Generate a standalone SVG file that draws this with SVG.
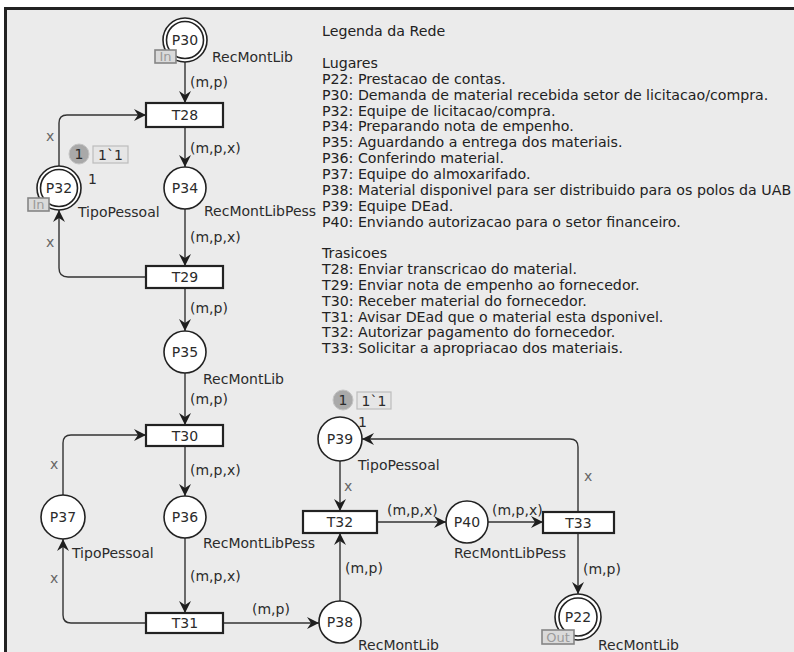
<svg xmlns="http://www.w3.org/2000/svg" width="794" height="652" viewBox="0 0 794 652">
<style>
text{font-family:"DejaVu Sans",Verdana,sans-serif;fill:#2b2b2b;font-size:14px}
.lab{font-size:14px}
.nm{font-size:14px;text-anchor:middle;dominant-baseline:central}
.ins{font-size:14px}
.gx{fill:#666}
.pl{fill:#fff;stroke:#222;stroke-width:1.6}
.tr{fill:#fff;stroke:#222;stroke-width:2.2}
.arc{fill:none;stroke:#333;stroke-width:1.4;marker-end:url(#ah)}
.port{fill:#dadada;stroke:#858585;stroke-width:1.6}
.pt{font-size:13px;fill:#9a9a9a;text-anchor:middle;dominant-baseline:central}
.tok{fill:#a9a9a9;stroke:#c4c4c4;stroke-width:1}
.tb{fill:#e6e6e6;stroke:#bdbdbd;stroke-width:1.2}
.leg{font-size:14.2px;fill:#222}
</style>
<defs>
<marker id="ah" markerUnits="userSpaceOnUse" markerWidth="14" markerHeight="14" refX="12" refY="6.5" orient="auto">
<path d="M0,0.5 L12,6.5 L0,12.5 L4,6.5 Z" fill="#1e1e1e"/>
</marker>
</defs>
<rect x="0" y="0" width="794" height="652" fill="#fff"/>
<rect x="5.5" y="8.5" width="820" height="680" fill="#ebebeb" stroke="#222" stroke-width="3"/>

<g id="connectors">
<path class="arc" d="M185 62 V103"/>
<path class="arc" d="M185 127 V167"/>
<path class="arc" d="M59 166 V123 Q59 115 67 115 H146"/>
<path class="arc" d="M185 209 V266"/>
<path class="arc" d="M146 277 H68 Q59 277 59 268 V210"/>
<path class="arc" d="M185 288 V331"/>
<path class="arc" d="M185 373 V425"/>
<path class="arc" d="M185 446 V496"/>
<path class="arc" d="M63 495 V443 Q63 435 71 435 H146"/>
<path class="arc" d="M185 538 V613"/>
<path class="arc" d="M146 623 H71 Q63 623 63 615 V539"/>
<path class="arc" d="M223 623 H319"/>
<path class="arc" d="M340 601 V533"/>
<path class="arc" d="M340 461 V511"/>
<path class="arc" d="M377 522 H446"/>
<path class="arc" d="M488 522 H543"/>
<path class="arc" d="M578 512 V447 Q578 439 570 439 H362"/>
<path class="arc" d="M578 533 V594"/>
<text class="ins" x="190" y="87">(m,p)</text>
<text class="ins" x="190" y="153">(m,p,x)</text>
<text class="ins gx" x="46" y="141">x</text>
<text class="ins" x="190" y="242">(m,p,x)</text>
<text class="ins gx" x="46" y="247">x</text>
<text class="ins" x="190" y="313">(m,p)</text>
<text class="ins" x="190" y="404">(m,p)</text>
<text class="ins gx" x="50" y="469">x</text>
<text class="ins" x="190" y="475">(m,p,x)</text>
<text class="ins" x="190" y="581">(m,p,x)</text>
<text class="ins gx" x="50" y="583">x</text>
<text class="ins" x="252" y="614">(m,p)</text>
<text class="ins" x="345" y="573">(m,p)</text>
<text class="ins gx" x="344" y="491">x</text>
<text class="ins" x="387" y="515">(m,p,x)</text>
<text class="ins" x="492" y="515">(m,p,x)</text>
<text class="ins gx" x="584" y="481">x</text>
<text class="ins" x="583" y="574">(m,p)</text>
</g>

<g id="P30">
<circle class="pl" cx="185" cy="40" r="22"/>
<circle class="pl" cx="185" cy="40" r="18.5"/>
<text class="nm" x="185" y="40">P30</text>
<rect class="port" x="155" y="50" width="21" height="13"/>
<text class="pt" x="165.5" y="56.5">In</text>
<text class="lab" x="212" y="62">RecMontLib</text>
</g>

<g id="T28">
<rect class="tr" x="146" y="103" width="77" height="24"/>
<text class="nm" x="185" y="115">T28</text>
</g>

<g id="P32">
<circle class="pl" cx="59" cy="188" r="22"/>
<circle class="pl" cx="59" cy="188" r="18.5"/>
<text class="nm" x="59" y="188">P32</text>
<rect class="port" x="28" y="198" width="21" height="13"/>
<text class="pt" x="38.5" y="204.5">In</text>
<text class="lab" x="78" y="217">TipoPessoal</text>
<text class="lab" x="88" y="184">1</text>
<circle class="tok" cx="79" cy="154" r="10"/>
<text class="nm" x="79" y="154">1</text>
<rect class="tb" x="93" y="146" width="35" height="17"/>
<text class="nm" x="110.5" y="154.5">1`1</text>
</g>

<g id="P34">
<circle class="pl" cx="185" cy="188" r="21"/>
<text class="nm" x="185" y="188">P34</text>
<text class="lab" x="204" y="216">RecMontLibPess</text>
</g>

<g id="T29">
<rect class="tr" x="146" y="266" width="77" height="22"/>
<text class="nm" x="185" y="277">T29</text>
</g>

<g id="P35">
<circle class="pl" cx="185" cy="352" r="21"/>
<text class="nm" x="185" y="352">P35</text>
<text class="lab" x="203" y="384">RecMontLib</text>
</g>

<g id="T30">
<rect class="tr" x="146" y="425" width="77" height="21"/>
<text class="nm" x="185" y="435.5">T30</text>
</g>

<g id="P37">
<circle class="pl" cx="63" cy="517" r="22"/>
<text class="nm" x="63" y="517">P37</text>
<text class="lab" x="72" y="558">TipoPessoal</text>
</g>

<g id="P36">
<circle class="pl" cx="185" cy="517" r="21"/>
<text class="nm" x="185" y="517">P36</text>
<text class="lab" x="203" y="548">RecMontLibPess</text>
</g>

<g id="T31">
<rect class="tr" x="146" y="613" width="77" height="20"/>
<text class="nm" x="185" y="623">T31</text>
</g>

<g id="P38">
<circle class="pl" cx="340" cy="622" r="21"/>
<text class="nm" x="340" y="622">P38</text>
<text class="lab" x="358" y="650">RecMontLib</text>
</g>

<g id="P39">
<circle class="pl" cx="340" cy="439" r="22"/>
<text class="nm" x="340" y="439">P39</text>
<text class="lab" x="358" y="470">TipoPessoal</text>
<text class="lab" x="358" y="427">1</text>
<circle class="tok" cx="343" cy="400" r="10"/>
<text class="nm" x="343" y="400">1</text>
<rect class="tb" x="357" y="392" width="34" height="17"/>
<text class="nm" x="374" y="400.5">1`1</text>
</g>

<g id="T32">
<rect class="tr" x="303" y="511" width="74" height="22"/>
<text class="nm" x="340" y="522">T32</text>
</g>

<g id="P40">
<circle class="pl" cx="467" cy="522" r="21"/>
<text class="nm" x="467" y="522">P40</text>
<text class="lab" x="454" y="558">RecMontLibPess</text>
</g>

<g id="T33">
<rect class="tr" x="543" y="512" width="71" height="21"/>
<text class="nm" x="578.5" y="522.5">T33</text>
</g>

<g id="P22">
<circle class="pl" cx="578" cy="617" r="23"/>
<circle class="pl" cx="578" cy="617" r="19"/>
<text class="nm" x="578" y="617">P22</text>
<rect class="port" x="542" y="630" width="32" height="14"/>
<text class="pt" x="558" y="637">Out</text>
<text class="lab" x="598" y="650">RecMontLib</text>
</g>

<g id="legend">
<text class="leg" x="322" y="36">Legenda da Rede</text>
<text class="leg" x="322" y="68">Lugares</text>
<text class="leg" x="322" y="84">P22: Prestacao de contas.</text>
<text class="leg" x="322" y="99.5">P30: Demanda de material recebida setor de licitacao/compra.</text>
<text class="leg" x="322" y="115.5">P32: Equipe de licitacao/compra.</text>
<text class="leg" x="322" y="131">P34: Preparando nota de empenho.</text>
<text class="leg" x="322" y="147">P35: Aguardando a entrega dos materiais.</text>
<text class="leg" x="322" y="163">P36: Conferindo material.</text>
<text class="leg" x="322" y="179">P37: Equipe do almoxarifado.</text>
<text class="leg" x="322" y="194.5">P38: Material disponivel para ser distribuido para os polos da UAB</text>
<text class="leg" x="322" y="210.5">P39: Equipe DEad.</text>
<text class="leg" x="322" y="226.5">P40: Enviando autorizacao para o setor financeiro.</text>
<text class="leg" x="322" y="258">Trasicoes</text>
<text class="leg" x="322" y="274">T28: Enviar transcricao do material.</text>
<text class="leg" x="322" y="290">T29: Enviar nota de empenho ao fornecedor.</text>
<text class="leg" x="322" y="305.5">T30: Receber material do fornecedor.</text>
<text class="leg" x="322" y="321.5">T31: Avisar DEad que o material esta dsponivel.</text>
<text class="leg" x="322" y="337">T32: Autorizar pagamento do fornecedor.</text>
<text class="leg" x="322" y="353">T33: Solicitar a apropriacao dos materiais.</text>
</g>
</svg>
